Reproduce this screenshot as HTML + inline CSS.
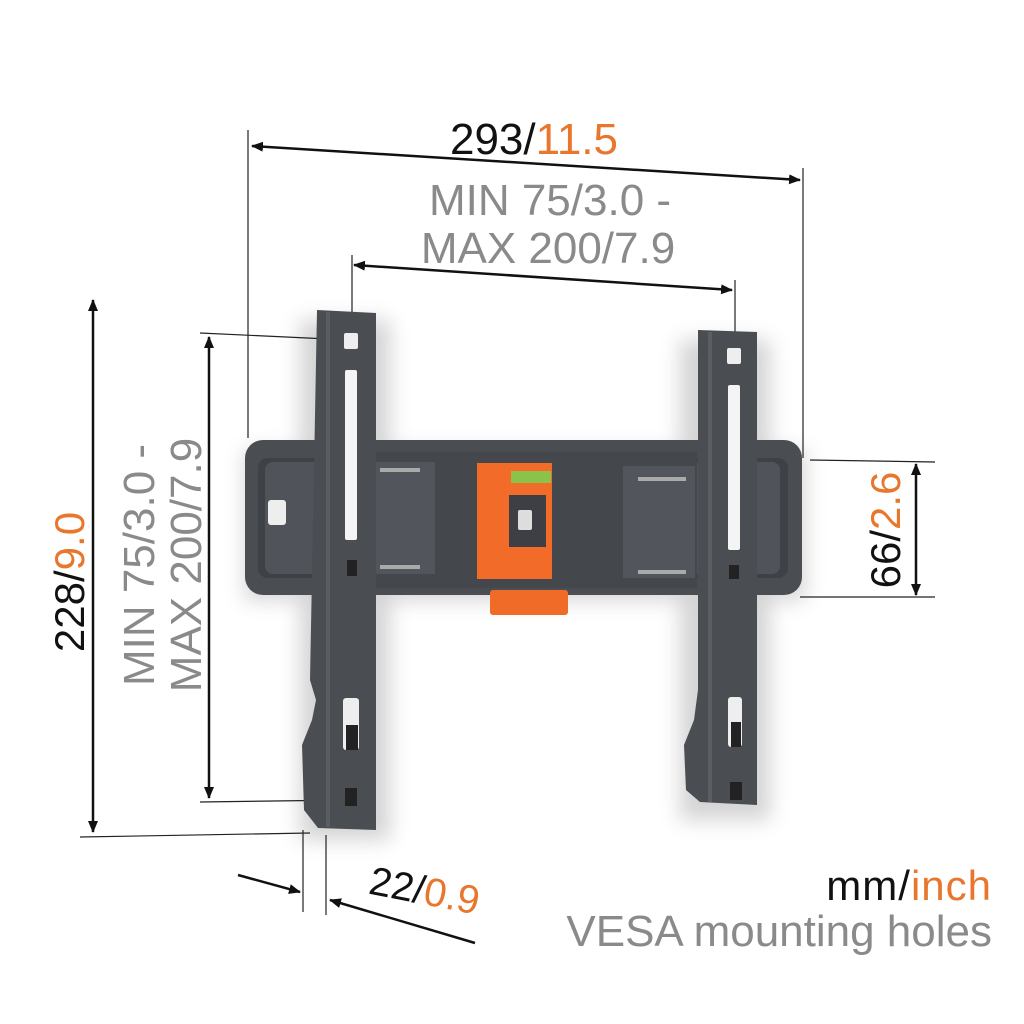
<!DOCTYPE html>
<html><head><meta charset="utf-8"><style>html,body{margin:0;padding:0;background:#fff}svg{display:block}</style></head>
<body>
<svg width="1024" height="1024" viewBox="0 0 1024 1024" xmlns="http://www.w3.org/2000/svg" font-family="Liberation Sans, sans-serif">
<defs>
<marker id="a" markerWidth="12" markerHeight="10" refX="11" refY="5" orient="auto-start-reverse" markerUnits="userSpaceOnUse"><path d="M0,0 L12,5 L0,10 z" fill="#111"/></marker>
<filter id="sh" x="-20%" y="-20%" width="140%" height="140%"><feGaussianBlur stdDeviation="10"/></filter>
</defs>
<rect width="1024" height="1024" fill="#fff"/>
<g opacity="0.25" filter="url(#sh)">
<rect x="300" y="320" width="90" height="520" fill="#555"/>
<rect x="680" y="340" width="90" height="480" fill="#555"/>
<rect x="245" y="450" width="560" height="150" fill="#555"/>
</g>
<g stroke="#222" stroke-width="1.2" fill="none">
<line x1="248" y1="130" x2="248" y2="438"/>
<line x1="803" y1="168" x2="803" y2="458"/>
<line x1="352" y1="255" x2="352" y2="340"/>
<line x1="735" y1="280" x2="735" y2="355"/>
<line x1="200" y1="333" x2="350" y2="340"/>
<line x1="200" y1="802" x2="350" y2="800"/>
<line x1="80" y1="837" x2="310" y2="833"/>
<line x1="810" y1="460" x2="935" y2="462"/>
<line x1="800" y1="597" x2="935" y2="597"/>
<line x1="303" y1="830" x2="303" y2="912"/>
<line x1="326" y1="835" x2="326" y2="915"/>
</g>
<g stroke="#111" stroke-width="2.5" fill="none">
<line x1="252" y1="146" x2="800" y2="180" marker-start="url(#a)" marker-end="url(#a)"/>
<line x1="354" y1="265" x2="732" y2="290" marker-start="url(#a)" marker-end="url(#a)"/>
<line x1="93" y1="300" x2="93" y2="832" marker-start="url(#a)" marker-end="url(#a)"/>
<line x1="209" y1="337" x2="209" y2="798" marker-start="url(#a)" marker-end="url(#a)"/>
<line x1="916" y1="464" x2="916" y2="595" marker-start="url(#a)" marker-end="url(#a)"/>
<line x1="238" y1="875" x2="300" y2="892" marker-end="url(#a)"/>
<line x1="330" y1="900" x2="475" y2="943" marker-start="url(#a)"/>
</g>
<rect x="245" y="440" width="557" height="155" rx="18" fill="#4a4d52"/>
<rect x="258" y="458" width="530" height="120" rx="10" fill="#3e4146"/>
<rect x="265" y="462" width="515" height="112" rx="8" fill="#50535a"/>
<rect x="375" y="452" width="322" height="136" fill="#44474c"/>
<rect x="375" y="462" width="60" height="112" fill="#52555b"/>
<rect x="623" y="466" width="72" height="112" fill="#52555b"/>
<rect x="380" y="468" width="40" height="4" fill="#aaa"/>
<rect x="380" y="565" width="40" height="4" fill="#aaa"/>
<rect x="638" y="477" width="48" height="4" fill="#aaa"/>
<rect x="638" y="570" width="48" height="4" fill="#aaa"/>
<rect x="268" y="500" width="18" height="25" rx="3" fill="#eee"/>
<rect x="490" y="590" width="78" height="25" rx="3" fill="#f06a28"/>
<rect x="477" y="463" width="75" height="116" fill="#f26b28"/>
<rect x="511" y="471" width="40" height="12" fill="#8bc34a"/>
<rect x="509" y="495" width="37" height="52" fill="#3d3f44"/>
<rect x="518" y="510" width="14" height="20" rx="2" fill="#ddd"/>
<path d="M317,310 L376,313 L376,830 L318,828 L304,810 L302,745 L312,720 L316,700 L310,680 Z" fill="#4a4d52"/>
<rect x="326" y="312" width="4" height="515" fill="#5a5d63"/>
<rect x="344" y="333" width="14" height="16" rx="2" fill="#eee"/>
<rect x="345" y="370" width="12" height="170" rx="2" fill="#f4f4f4"/>
<rect x="347" y="560" width="10" height="16" fill="#222"/>
<rect x="343" y="698" width="16" height="52" rx="3" fill="#eee"/>
<rect x="346" y="725" width="12" height="25" fill="#222"/>
<rect x="345" y="788" width="12" height="18" fill="#222"/>
<path d="M698,330 L757,332 L757,805 L700,802 L686,790 L684,745 L694,720 L698,690 Z" fill="#4a4d52"/>
<rect x="708" y="332" width="4" height="470" fill="#5a5d63"/>
<rect x="727" y="348" width="14" height="16" rx="2" fill="#eee"/>
<rect x="728" y="385" width="12" height="165" rx="2" fill="#f4f4f4"/>
<rect x="729" y="565" width="10" height="14" fill="#222"/>
<rect x="728" y="697" width="14" height="50" rx="3" fill="#eee"/>
<rect x="731" y="722" width="10" height="25" fill="#222"/>
<rect x="730" y="782" width="12" height="18" fill="#222"/>
<text x="534" y="154" font-size="44" text-anchor="middle" fill="#111">293/<tspan fill="#e8762d">11.5</tspan></text>
<text x="550" y="215" font-size="44" text-anchor="middle" fill="#8a8a8a">MIN 75/3.0 -</text>
<text x="548" y="263" font-size="44" text-anchor="middle" fill="#8a8a8a">MAX 200/7.9</text>
<text transform="translate(84,582) rotate(-90)" font-size="42" text-anchor="middle" fill="#111">228/<tspan fill="#e8762d">9.0</tspan></text>
<text transform="translate(154,565) rotate(-90)" font-size="44" text-anchor="middle" fill="#8a8a8a">MIN 75/3.0 -</text>
<text transform="translate(201,565) rotate(-90)" font-size="44" text-anchor="middle" fill="#8a8a8a">MAX 200/7.9</text>
<text transform="translate(900,530) rotate(-90)" font-size="42" text-anchor="middle" fill="#111">66/<tspan fill="#e8762d">2.6</tspan></text>
<text transform="translate(422,904) rotate(11)" font-size="40" text-anchor="middle" fill="#111">22/<tspan fill="#e8762d">0.9</tspan></text>
<text x="992" y="900" font-size="42" text-anchor="end" fill="#111" letter-spacing="1">mm/<tspan fill="#e8762d">inch</tspan></text>
<text x="992" y="946" font-size="44" text-anchor="end" fill="#8a8a8a">VESA mounting holes</text>
</svg>
</body></html>
